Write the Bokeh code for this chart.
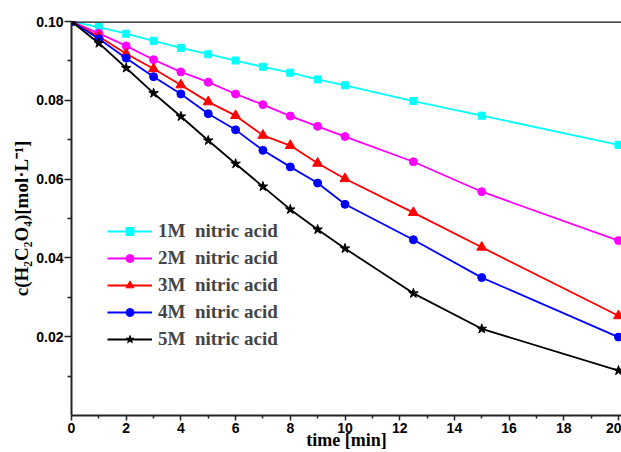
from bokeh.plotting import figure
from bokeh.models import Range1d, FixedTicker, NumeralTickFormatter, Span, Legend, LegendItem
from bokeh.embed import file_html
from bokeh.resources import INLINE

# time [min]
time = [0, 1, 2, 3, 4, 5, 6, 7, 8, 9, 10, 12.5, 15, 20]
# concentration of H2C2O4 [mol/L]
c_1M = [0.100, 0.0986, 0.0969, 0.0951, 0.0933, 0.0917, 0.0901, 0.0885, 0.0870, 0.0853, 0.0838, 0.0798, 0.0761, 0.0687]
c_2M = [0.100, 0.0970, 0.0938, 0.0903, 0.0872, 0.0846, 0.0816, 0.0789, 0.0760, 0.0734, 0.0708, 0.0644, 0.0568, 0.0444]
c_3M = [0.100, 0.0962, 0.0918, 0.0880, 0.0839, 0.0796, 0.0761, 0.0711, 0.0685, 0.0640, 0.0601, 0.0515, 0.0427, 0.0253]
c_4M = [0.100, 0.0956, 0.0907, 0.0860, 0.0816, 0.0766, 0.0725, 0.0673, 0.0631, 0.0590, 0.0536, 0.0446, 0.0350, 0.0199]
c_5M = [0.100, 0.0945, 0.0882, 0.0818, 0.0759, 0.0698, 0.0639, 0.0581, 0.0523, 0.0472, 0.0424, 0.0310, 0.0220, 0.0114]

labels = ["1M  nitric acid", "2M  nitric acid", "3M  nitric acid", "4M  nitric acid", "5M  nitric acid"]
x_ticks = [0, 2, 4, 6, 8, 10, 12, 14, 16, 18, 20]
x_minor = [1, 3, 5, 7, 9, 11, 13, 15, 17, 19]
y_ticks = [0.02, 0.04, 0.06, 0.08, 0.10]
y_minor = [0.01, 0.03, 0.05, 0.07, 0.09]

series = [c_1M, c_2M, c_3M, c_4M, c_5M]
colors = ["#00FFFF", "#FF00FF", "#FF0000", "#0000FF", "#000000"]
markers = ["square", "circle", "triangle", "circle", "star"]
sizes = [7, 8, 10, 8, 10]

p = figure(width=621, height=452, output_backend="svg", toolbar_location=None,
           x_range=Range1d(0, 20 * 550 / 547), y_range=Range1d(0, 0.1),
           min_border_left=71, min_border_right=0, min_border_top=21, min_border_bottom=37)
p.outline_line_color = None
p.grid.visible = False
p.background_fill_color = "white"

items = []
for ys, col, mk, sz, lab in zip(series, colors, markers, sizes, labels):
    r1 = p.line(time, ys, line_color=col, line_width=1.8)
    r2 = p.scatter(time, ys, marker=mk, size=sz, fill_color=col, line_color=col)
    items.append(LegendItem(label=lab, renderers=[r1, r2]))

legend = Legend(items=items, location=(36, 65), glyph_width=45, glyph_height=20,
                label_height=20, spacing=5, label_standoff=6, padding=0, margin=0,
                border_line_color=None, background_fill_alpha=0,
                label_text_font="Liberation Serif", label_text_font_style="bold",
                label_text_font_size="19px")
p.add_layout(legend, "center")

top = Span(location=0.1, dimension="width", line_color="#111111", line_width=2.5)
p.add_layout(top)

xa = p.xaxis[0]
xa.ticker = FixedTicker(ticks=x_ticks, minor_ticks=x_minor)
xa.axis_label = "time [min]"
xa.axis_label_text_font = "Liberation Serif"
xa.axis_label_text_font_style = "bold"
xa.axis_label_text_font_size = "18px"
xa.axis_label_standoff = -6
xa.major_label_text_font = "Liberation Sans"
xa.major_label_text_font_style = "bold"
xa.major_label_text_font_size = "14px"
xa.major_label_standoff = 2
xa.major_tick_out = 5
xa.major_tick_in = 0
xa.minor_tick_out = 3
xa.minor_tick_in = 0

ya = p.yaxis[0]
ya.ticker = FixedTicker(ticks=y_ticks, minor_ticks=y_minor)
ya.formatter = NumeralTickFormatter(format="0.00")
ya.axis_label = "c(H₂C₂O₄)[mol·L⁻¹]"
ya.axis_label_text_font = "Liberation Serif"
ya.axis_label_text_font_style = "bold"
ya.axis_label_text_font_size = "19px"
ya.axis_label_standoff = 1
ya.major_label_text_font = "Liberation Sans"
ya.major_label_text_font_style = "bold"
ya.major_label_text_font_size = "14px"
ya.major_label_standoff = 1
ya.major_tick_out = 7
ya.major_tick_in = 0
ya.minor_tick_out = 4
ya.minor_tick_in = 0

for ax in (xa, ya):
    ax.axis_line_color = "#222222"
    ax.axis_line_width = 2
    ax.major_tick_line_color = "#222222"
    ax.major_tick_line_width = 1.5
    ax.minor_tick_line_color = "#222222"
    ax.minor_tick_line_width = 1.5
    ax.major_label_text_color = "black"
    ax.axis_label_text_color = "black"

open("out.html", "w").write(file_html(p, INLINE))
